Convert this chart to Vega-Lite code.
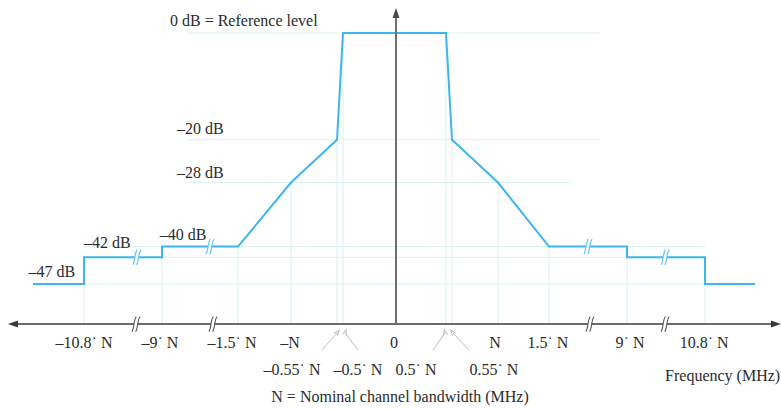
{
  "$schema": "https://vega.github.io/schema/vega-lite/v6.json",
  "width": 781,
  "height": 409,
  "autosize": {"type": "none"},
  "padding": 0,
  "background": "white",
  "config": {"view": {"stroke": null}, "text": {"font": "Liberation Serif", "fontSize": 16, "color": "#2b2b2b", "baseline": "middle"}},
  "datasets": {
    "mask": [
      {"i": 1, "f": -12, "db": -47}, {"i": 2, "f": -10.8, "db": -47}, {"i": 3, "f": -10.8, "db": -42},
      {"i": 4, "f": -9, "db": -42}, {"i": 5, "f": -9, "db": -40}, {"i": 6, "f": -1.5, "db": -40},
      {"i": 7, "f": -1, "db": -28}, {"i": 8, "f": -0.55, "db": -20}, {"i": 9, "f": -0.5, "db": 0},
      {"i": 10, "f": 0.5, "db": 0}, {"i": 11, "f": 0.55, "db": -20}, {"i": 12, "f": 1, "db": -28},
      {"i": 13, "f": 1.5, "db": -40}, {"i": 14, "f": 9, "db": -40}, {"i": 15, "f": 9, "db": -42},
      {"i": 16, "f": 10.8, "db": -42}, {"i": 17, "f": 10.8, "db": -47}, {"i": 18, "f": 12, "db": -47}
    ],
    "hgrid": [
      {"db": 0, "f": -6.43, "f2": 6.4}, {"db": -20, "f": -6.43, "f2": 6.4}, {"db": -28, "f": -6.43, "f2": 3.52},
      {"db": -40, "f": -10.8, "f2": 10.8}, {"db": -42, "f": -10.8, "f2": 10.8}, {"db": -47, "f": -10.8, "f2": 10.8}
    ],
    "vgrid": [
      {"f": -10.8, "db": -42}, {"f": -9, "db": -40}, {"f": -1.5, "db": -40}, {"f": -1, "db": -28},
      {"f": -0.55, "db": -20}, {"f": -0.5, "db": 0}, {"f": 0.5, "db": 0}, {"f": 0.55, "db": -20},
      {"f": 1, "db": -28}, {"f": 1.5, "db": -40}, {"f": 9, "db": -40}, {"f": 10.8, "db": -42}
    ],
    "maskBreaks": [
      {"f": -9.58, "db": -42}, {"f": -4.26, "db": -40}, {"f": 5.25, "db": -40}, {"f": 9.88, "db": -42}
    ],
    "axisBreaks": [
      {"f": -9.6, "db": -54.5}, {"f": -3.97, "db": -54.5}, {"f": 5.44, "db": -54.5}, {"f": 9.88, "db": -54.5}
    ],
    "xAxis": [{"f": -12.48, "f2": 12.485, "db": -54.5}],
    "yAxis": [{"f": 0, "db": -54.5, "db2": 3.75}],
    "arrowLeft": [{"f": -12.48, "db": -54.5}],
    "arrowRight": [{"f": 12.485, "db": -54.5}],
    "arrowUp": [{"f": 0, "db": 3.75}],
    "pointers": [
      {"id": "a", "f": -0.697, "db": -59.36, "f2": -0.55, "db2": -56.18},
      {"id": "b", "f": -0.358, "db": -59.36, "f2": -0.48, "db2": -56.18},
      {"id": "c", "f": 0.37, "db": -59.36, "f2": 0.49, "db2": -56.18},
      {"id": "d", "f": 0.716, "db": -59.36, "f2": 0.56, "db2": -56.18}
    ],
    "labelsL": [
      {"t": "–42 dB", "f": -10.8, "db": -39.3},
      {"t": "–40 dB", "f": -9.05, "db": -37.8},
      {"t": "–28 dB", "f": -7.52, "db": -26.2},
      {"t": "–20 dB", "f": -7.52, "db": -18.0},
      {"t": "0 dB = Reference level", "f": -8.21, "db": 2.25}
    ],
    "labelsR": [
      {"t": "–47 dB", "f": -11.01, "db": -44.8},
      {"t": "Frequency (MHz)", "f": 12.58, "db": -64.2}
    ],
    "labelsC": [
      {"t": "–10.8˙ N", "f": -10.8, "db": -58.05},
      {"t": "–9˙ N", "f": -9.05, "db": -58.05},
      {"t": "–1.5˙ N", "f": -2.09, "db": -58.05},
      {"t": "–N", "f": -1.01, "db": -58.05},
      {"t": "0", "f": -0.02, "db": -58.05},
      {"t": "N", "f": 0.97, "db": -58.05},
      {"t": "1.5˙ N", "f": 1.49, "db": -58.05},
      {"t": "9˙ N", "f": 9.07, "db": -58.05},
      {"t": "10.8˙ N", "f": 10.78, "db": -58.05},
      {"t": "–0.55˙ N", "f": -0.99, "db": -63.1},
      {"t": "–0.5˙ N", "f": -0.36, "db": -63.1},
      {"t": "0.5˙ N", "f": 0.2, "db": -63.1},
      {"t": "0.55˙ N", "f": 0.96, "db": -63.1},
      {"t": "N = Nominal channel bandwidth (MHz)", "f": 0.04, "db": -68.2}
    ]
  },
  "encoding": {
    "x": {"field": "f", "type": "quantitative", "axis": null,
      "scale": {"domain": [-12.6, -12, -10.8, -9, -1.5, -1, -0.55, -0.5, 0, 0.5, 0.55, 1, 1.5, 9, 10.8, 12, 12.6],
                "range": [8, 33, 84, 162, 238, 291, 337, 343, 396, 446, 452, 498, 549, 627, 705, 755, 781],
                "zero": false, "nice": false}},
    "y": {"field": "db", "type": "quantitative", "axis": null,
      "scale": {"domain": [-70.41, 6.18], "zero": false, "nice": false}}
  },
  "layer": [
    {"data": {"name": "hgrid"}, "mark": {"type": "rule", "color": "#dbf0f0", "strokeWidth": 1},
     "encoding": {"x2": {"field": "f2"}}},
    {"data": {"name": "vgrid"}, "mark": {"type": "rule", "color": "#dbf0f0", "strokeWidth": 1},
     "encoding": {"y2": {"datum": -54.5}}},
    {"data": {"name": "mask"}, "mark": {"type": "line", "color": "#3db6ee", "strokeWidth": 2},
     "encoding": {"order": {"field": "i", "type": "quantitative"}}},
    {"data": {"name": "maskBreaks"}, "mark": {"type": "point", "filled": true, "fill": "white", "strokeWidth": 0, "opacity": 1, "size": 225,
      "shape": "M -0.55 1 C -0.2 0.6 -0.35 -0.6 0.05 -1 L 0.55 -1 C 0.15 -0.6 0.3 0.6 -0.05 1 Z"}, "encoding": {}},
    {"data": {"name": "maskBreaks"}, "mark": {"type": "point", "filled": false, "stroke": "#6ccaf2", "strokeWidth": 1.3, "opacity": 1, "size": 225,
      "shape": "M -0.55 1 C -0.2 0.6 -0.35 -0.6 0.05 -1 M -0.05 1 C 0.3 0.6 0.15 -0.6 0.55 -1"}, "encoding": {}},
    {"data": {"name": "xAxis"}, "mark": {"type": "rule", "color": "#3a3a3a", "strokeWidth": 1.5},
     "encoding": {"x2": {"field": "f2"}}},
    {"data": {"name": "yAxis"}, "mark": {"type": "rule", "color": "#6f6f6f", "strokeWidth": 2},
     "encoding": {"y2": {"field": "db2"}}},
    {"data": {"name": "arrowLeft"}, "mark": {"type": "point", "filled": true, "color": "#3a3a3a", "opacity": 1, "size": 100,
      "shape": "M -1 0 L 1 -0.7 L 1 0.7 Z"}, "encoding": {}},
    {"data": {"name": "arrowRight"}, "mark": {"type": "point", "filled": true, "color": "#3a3a3a", "opacity": 1, "size": 100,
      "shape": "M 1 0 L -1 -0.7 L -1 0.7 Z"}, "encoding": {}},
    {"data": {"name": "arrowUp"}, "mark": {"type": "point", "filled": true, "color": "#4a4a4a", "opacity": 1, "size": 100,
      "shape": "M 0 -1 L -0.7 1 L 0.7 1 Z"}, "encoding": {}},
    {"data": {"name": "axisBreaks"}, "mark": {"type": "point", "filled": true, "fill": "white", "strokeWidth": 0, "opacity": 1, "size": 225,
      "shape": "M -0.55 1 C -0.2 0.6 -0.35 -0.6 0.05 -1 L 0.55 -1 C 0.15 -0.6 0.3 0.6 -0.05 1 Z"}, "encoding": {}},
    {"data": {"name": "axisBreaks"}, "mark": {"type": "point", "filled": false, "stroke": "#555555", "strokeWidth": 1.1, "opacity": 1, "size": 225,
      "shape": "M -0.55 1 C -0.2 0.6 -0.35 -0.6 0.05 -1 M -0.05 1 C 0.3 0.6 0.15 -0.6 0.55 -1"}, "encoding": {}},
    {"data": {"name": "pointers"}, "mark": {"type": "rule", "color": "#bdbdbd", "strokeWidth": 1},
     "encoding": {"x2": {"field": "f2"}, "y2": {"field": "db2"}}},
    {"data": {"name": "pointers"}, "mark": {"type": "point", "filled": false, "stroke": "#bdbdbd", "strokeWidth": 1, "opacity": 1, "size": 49,
      "shape": "M -0.6 0.6 L 0 -1 L 0.6 0.6"},
     "encoding": {"x": {"field": "f2", "type": "quantitative"}, "y": {"field": "db2", "type": "quantitative"},
       "angle": {"field": "id", "type": "nominal", "legend": null, "scale": {"domain": ["a", "b", "c", "d"], "range": [41, -37, 35, -43]}}}},
    {"data": {"name": "labelsL"}, "mark": {"type": "text", "align": "left"}, "encoding": {"text": {"field": "t"}}},
    {"data": {"name": "labelsR"}, "mark": {"type": "text", "align": "right"}, "encoding": {"text": {"field": "t"}}},
    {"data": {"name": "labelsC"}, "mark": {"type": "text", "align": "center"}, "encoding": {"text": {"field": "t"}}}
  ]
}
